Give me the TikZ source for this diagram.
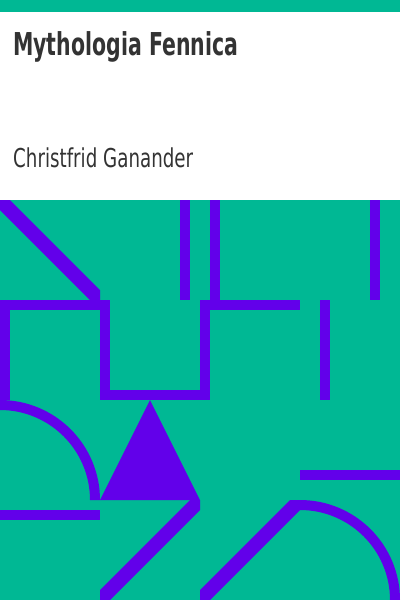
\documentclass[tikz,border=0pt]{standalone}
\usepackage{fontspec}
\setmainfont{DejaVu Sans}
\definecolor{bggreen}{HTML}{00B894}
\definecolor{deeppurple}{HTML}{6200EA}
\definecolor{inkgray}{HTML}{333333}
\tikzset{
  bar/.style={fill=deeppurple, draw=none},
  label/.style={inner sep=0pt, anchor=base west, text=inkgray}
}
\begin{document}
\begin{tikzpicture}[x=1pt,y=-1pt]
\useasboundingbox (0,0) rectangle (400,600);
\fill[bggreen] (0,0) rectangle (400,600);
\fill[white] (0,12) rectangle (400,200);
% texts
\node[label] (title) at (13,55) {\resizebox{225pt}{\height}{\fontsize{31.5}{36}\selectfont\bfseries Mythologia Fennica}};
\node[label] (author) at (13,167) {\resizebox{180pt}{\height}{\fontsize{26}{30}\selectfont Christfrid Ganander}};
% upper grid
\fill[bar] (0,200) -- (10,200) -- (100,290) -- (100,300) -- (90,300) -- (0,210) -- cycle;
\fill[bar] (180,200) rectangle (190,300);
\fill[bar] (210,200) rectangle (220,300);
\fill[bar] (370,200) rectangle (380,300);
\fill[bar] (0,300) rectangle (110,310);
\fill[bar] (0,300) rectangle (10,400);
\fill[bar] (100,300) rectangle (110,400);
\fill[bar] (100,390) rectangle (210,400);
\fill[bar] (200,300) rectangle (210,400);
\fill[bar] (200,300) rectangle (300,310);
\fill[bar] (320,300) rectangle (330,400);
% lower grid
\fill[bar] (0,400) arc[start angle=-90, end angle=0, radius=100] -- (90,500)
  arc[start angle=0, end angle=-90, radius=90] -- cycle;
\fill[bar] (100,500) -- (150,400) -- (200,500) -- cycle;
\fill[bar] (0,510) rectangle (100,520);
\fill[bar] (190,500) -- (200,500) -- (200,510) -- (110,600) -- (100,600) -- (100,590) -- cycle;
\fill[bar] (300,470) rectangle (400,480);
\fill[bar] (200,590) -- (290,500) -- (300,500) arc[start angle=-90, end angle=0, radius=100]
  -- (390,600) arc[start angle=0, end angle=-90, radius=90] -- (300,510) -- (210,600) -- (200,600) -- cycle;
\end{tikzpicture}
\end{document}
